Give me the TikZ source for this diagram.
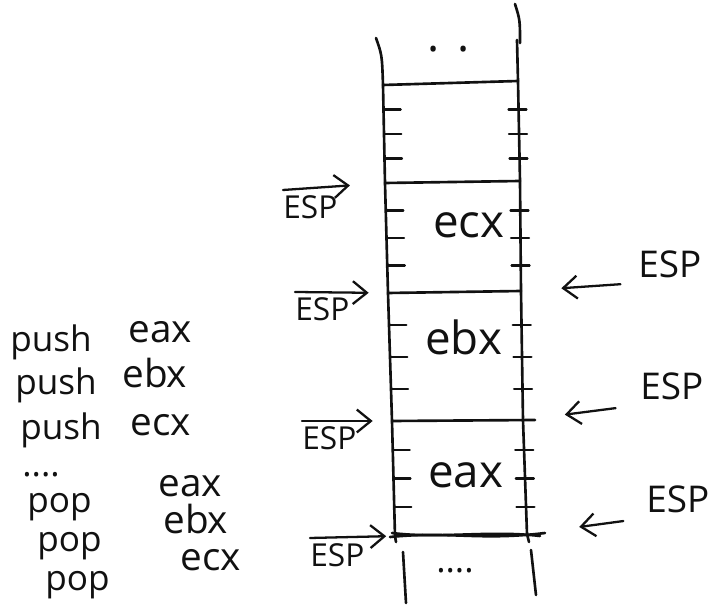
\documentclass[tikz,border=0pt]{standalone}
\usepackage{fontspec}
\setmainfont{Open Sans}
\usetikzlibrary{arrows.meta,positioning,calc}
\definecolor{skInk}{HTML}{111111}
\tikzset{
  wall/.style={draw=skInk, line width=1.5pt, line cap=round, line join=round},
  tck/.style={draw=skInk, line width=1.3pt, line cap=round},
  reg/.style={font=\fontsize{26}{26}\selectfont, text=skInk, inner sep=0pt, anchor=base west},
  cmd/.style={font=\fontsize{20}{20}\selectfont, text=skInk, inner sep=0pt, anchor=base west},
  opnd/.style={cmd, font=\fontsize{22}{22}\selectfont, text depth=0pt},
  esp/.style={font=\fontsize{18}{18}\selectfont, text=skInk, inner xsep=0pt, inner ysep=3pt},
  espR/.style={esp, font=\fontsize{21}{21}\selectfont, anchor=south west},
  ptr/.style={-{Straight Barb[length=8pt,width=13pt]}, line width=1.3pt, draw=skInk, line cap=round},
}

\begin{document}
\begin{tikzpicture}[x=0.02cm, y=-0.02cm]
  \useasboundingbox (0,0) rectangle (708,611);
  % stack edges
  \coordinate (sl0) at (383,85);  \coordinate (sr0) at (518,81);
  \coordinate (sl1) at (385,183); \coordinate (sr1) at (520,181);
  \coordinate (sl2) at (388,293); \coordinate (sr2) at (521,291);
  \coordinate (sl3) at (392,421); \coordinate (sr3) at (523,420);
  \coordinate (sl4) at (395,536); \coordinate (sr4) at (527,534);
  \draw[wall] (376,38) .. controls (382,55) .. (sl0) -- (sl1) -- (sl2) -- (sl3) -- (sl4) -- (396,542);
  \draw[wall] (403,552) -- (406,603);
  \draw[wall] (515,4) .. controls (520,20) .. (520,43);
  \draw[wall] (517,40) -- (sr0) -- (sr1) -- (sr2) -- (sr3) -- (sr4) -- (529,542);
  \draw[wall] (531,550) -- (536,595);
  % slot borders
  \draw[wall] (sl0) -- (sr0);
  \draw[wall] (sl1) -- (sr1);
  \draw[wall] (sl2) -- (sr2);
  \draw[wall] (sl3) -- (535,420);
  \draw[wall] (390,537) .. controls (450,531) and (480,541) .. (545,533);
  \draw[wall] (392,533) .. controls (440,539) and (490,530) .. (540,536);
  % byte ticks
  \foreach \ya/\yb in {85/183,183/293,293/421,421/536}
    \foreach \f in {0.25,0.5,0.75}{
      \pgfmathsetmacro\ty{\ya+\f*(\yb-\ya)}
      \pgfmathsetmacro\lx{383+(\ty-85)*12/451}
      \pgfmathsetmacro\rx{518+(\ty-85)*9/451}
      \draw[tck] (\lx,\ty) -- ++(17,0);
      \draw[tck] (\rx-10,\ty) -- ++(18,0);
    }
  % slot contents
  \node[reg] (dotsTop) at (427,52) {.\hspace{0.4em}.};
  \node[reg] (ecx) at (433,238) {ecx};
  \node[reg] (ebx) at (425,355) {ebx};
  \node[reg] (eax) at (428,488) {eax};
  \node[cmd, anchor=base] (dotsBot) at (455,573) {....};

  % instructions
  \node[cmd] (push1) at (10,352) {push};  \node[opnd] (opA) at (128,343) {eax};
  \node[cmd] (push2) at (15,395) {push};  \node[opnd] (opB) at (122,388) {ebx};
  \node[cmd] (push3) at (20,440) {push};  \node[opnd] (opC) at (130,436) {ecx};
  \node[cmd] (more) at (22,477) {....};
  \node[cmd] (pop1) at (27,513) {pop};    \node[opnd] (opD) at (158,497) {eax};
  \node[cmd] (pop2) at (37,552) {pop};    \node[opnd] (opE) at (163,534) {ebx};
  \node[cmd] (pop3) at (45,591) {pop};    \node[opnd] (opF) at (180,571) {ecx};

  % ESP while pushing
  \node[esp, anchor=north west] (espL1) at (283,190) {ESP};
  \node[esp, anchor=north west] (espL2) at (295,292) {ESP};
  \node[esp, anchor=north west] (espL3) at (302,421) {ESP};
  \node[esp, anchor=north west] (espL4) at (310,538) {ESP};
  \draw[ptr, shorten >=20pt] (espL1.north west) -- (sl1);
  \draw[ptr, shorten >=11pt] (espL2.north west) -- (sl2);
  \draw[ptr, shorten >=11pt] (espL3.north west) -- (sl3);
  \draw[ptr, shorten >=5pt] (espL4.north west) -- (sl4);

  % ESP while popping
  \node[espR] (espR1) at (638,283) {ESP};
  \node[espR] (espR2) at (640,405) {ESP};
  \node[espR] (espR3) at (646,518) {ESP};
  \draw[ptr, shorten <=10pt, shorten >=23pt] (espR1.south west) -- (sr2);
  \draw[ptr, shorten <=14pt, shorten >=24pt] (espR2.south west) -- (sr3);
  \draw[ptr, shorten <=13pt, shorten >=30pt] (espR3.south west) -- (sr4);
\end{tikzpicture}
\end{document}
